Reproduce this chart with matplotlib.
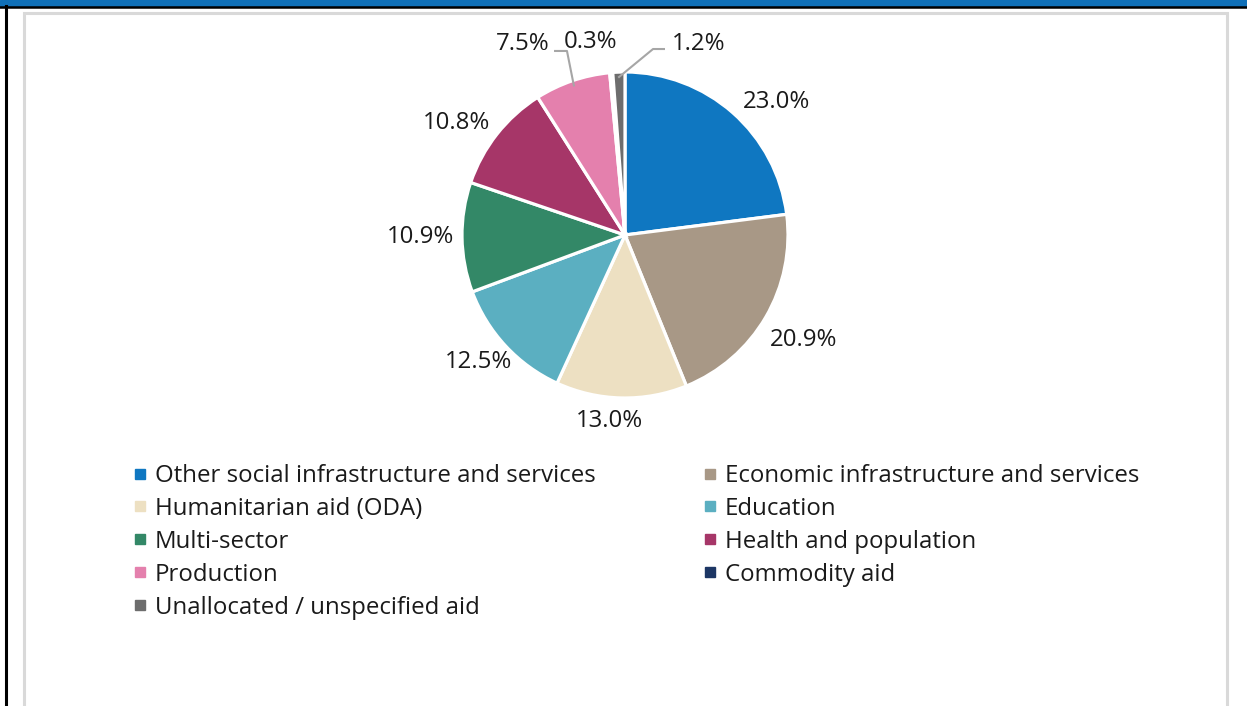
import numpy as np
import matplotlib.pyplot as plt
from matplotlib.patches import Rectangle
from matplotlib.lines import Line2D

plt.rcParams['font.family'] = ['Open Sans', 'DejaVu Sans']

# sector shares of the pie, clockwise from 12 o'clock
sectors = ["Other social infrastructure and services",
           "Economic infrastructure and services",
           "Humanitarian aid (ODA)",
           "Education",
           "Multi-sector",
           "Health and population",
           "Production",
           "Commodity aid",
           "Unallocated / unspecified aid"]
shares = [23.0, 20.9, 13.0, 12.5, 10.9, 10.8, 7.5, 0.3, 1.2]
colors = ["#0F77C1", "#A89886", "#EDE0C2", "#5BAFC1", "#338867",
          "#A63668", "#E480AD", "#1C3664", "#6D6D6D"]

# labels near the top are moved up and get a leader line
moved = {6: (-0.626, 1.172), 7: (-0.209, 1.184), 8: (0.454, 1.172)}
elbows = {6: [(-0.429, 1.129), (-0.356, 1.129)],
          8: [(0.239, 1.141), (0.172, 1.141)]}
# small shifts for a few outside labels (in pie radii)
nudge = {0: (0.03, -0.012), 1: (-0.018, -0.043), 2: (-0.074, -0.018), 3: (0.08, 0.012)}

FS = 17.3
W, H = 1247, 706
fig = plt.figure(figsize=(W / 100, H / 100), dpi=100)

# page furniture: blue band, black rules, grey chart frame
fig.patches.append(Rectangle((0, 1 - 6 / H), 1, 6 / H, transform=fig.transFigure,
                             color="#1070B8", zorder=0))
fig.add_artist(Line2D([0, 1], [1 - 6.5 / H, 1 - 6.5 / H], color="black", lw=1.8))
fig.add_artist(Line2D([6 / W, 6 / W], [0, 1 - 6 / H], color="black", lw=2.2))
fig.patches.append(Rectangle((24 / W, -0.05), 1203 / W, 1.05 - 13 / H,
                             transform=fig.transFigure, fill=False,
                             edgecolor="#D9D9D9", lw=2.2, zorder=0))

cx, cy, R = 625, 235, 163
half = 230
ax = fig.add_axes([(cx - half) / W, 1 - (cy + half) / H, 2 * half / W, 2 * half / H])
ax.axis("off")

wedges, _ = ax.pie(shares, colors=colors, startangle=90, counterclock=False,
                   radius=1, wedgeprops=dict(edgecolor="white", linewidth=2.3))
lim = half / R
ax.set_xlim(-lim, lim)
ax.set_ylim(-lim, lim)
ax.set_aspect("equal")

for i, w in enumerate(wedges):
    theta = np.deg2rad((w.theta1 + w.theta2) / 2)
    c, s = np.cos(theta), np.sin(theta)
    txt = f"{shares[i]:.1f}%"
    if i in moved:
        x, y = moved[i]
        ax.text(x, y, txt, ha="center", va="center", fontsize=FS, color="#1A1A1A")
        if i in elbows:
            pts = elbows[i] + [(0.97 * c, 0.97 * s)]
            ax.plot([p[0] for p in pts], [p[1] for p in pts], color="#A6A6A6",
                    lw=1.5, clip_on=False)
        continue
    r = 1.05
    dx, dy = nudge.get(i, (0, 0))
    ha = "center" if abs(c) < 0.1 else ("left" if c > 0 else "right")
    va = "center" if abs(s) < 0.1 else ("baseline" if s > 0 else "top")
    ax.text(r * c + dx, r * s + dy, txt, ha=ha, va=va, fontsize=FS, color="#1A1A1A")

# legend filled row by row, two columns
order = [0, 2, 4, 6, 8, 1, 3, 5, 7]
handles = [Line2D([], [], marker="s", linestyle="none", markersize=7.3,
                  markerfacecolor=colors[k], markeredgecolor=colors[k]) for k in order]
fig.legend(handles, [sectors[k] for k in order], ncol=2, frameon=False,
           loc="upper left", bbox_to_anchor=(122 / W, 1 - 452 / H),
           fontsize=FS, handlelength=0.5, handletextpad=0.375,
           columnspacing=4.5, labelspacing=0.37, borderpad=0, labelcolor="#1A1A1A")

fig.savefig("out.png", dpi=100)
